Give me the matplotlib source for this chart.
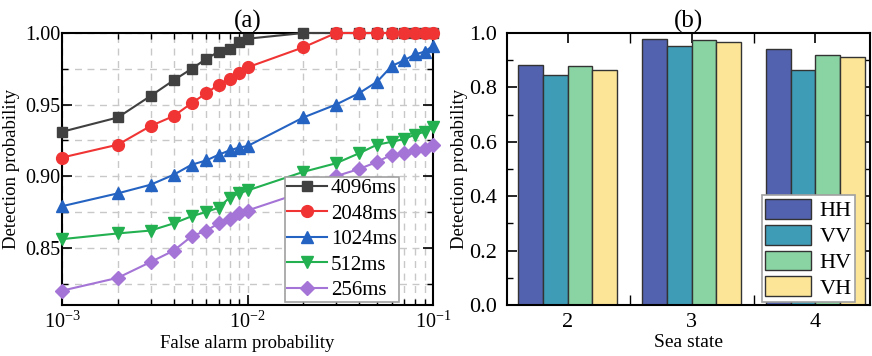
import matplotlib
matplotlib.use("Agg")
import matplotlib.pyplot as plt
from matplotlib.ticker import LogLocator, MultipleLocator, FixedLocator, NullFormatter, FormatStrFormatter
import numpy as np

plt.rcParams['font.family'] = ['Liberation Serif', 'DejaVu Serif']
plt.rcParams['mathtext.fontset'] = 'custom'
plt.rcParams['mathtext.rm'] = 'Liberation Serif'
plt.rcParams['mathtext.it'] = 'Liberation Serif:italic'
plt.rcParams['mathtext.bf'] = 'Liberation Serif:bold'

# ---- data (a) ----
pfa = [1e-3, 2e-3, 3e-3, 4e-3, 5e-3, 6e-3, 7e-3, 8e-3, 9e-3, 1e-2,
       2e-2, 3e-2, 4e-2, 5e-2, 6e-2, 7e-2, 8e-2, 9e-2, 1e-1]
pd_4096 = [0.931, 0.941, 0.956, 0.967, 0.975, 0.982, 0.987, 0.989, 0.994, 0.996,
           1.000, 1.000, 1.000, 1.000, 1.000, 1.000, 1.000, 1.000, 1.000]
pd_2048 = [0.913, 0.922, 0.935, 0.942, 0.951, 0.958, 0.964, 0.968, 0.972, 0.976,
           0.990, 1.000, 1.000, 1.000, 1.000, 1.000, 1.000, 1.000, 1.000]
pd_1024 = [0.879, 0.888, 0.894, 0.901, 0.908, 0.911, 0.915, 0.918, 0.920, 0.921,
           0.941, 0.950, 0.958, 0.966, 0.977, 0.981, 0.985, 0.987, 0.991]
pd_512 = [0.856, 0.860, 0.862, 0.867, 0.872, 0.875, 0.878, 0.885, 0.888, 0.890,
          0.903, 0.909, 0.916, 0.922, 0.924, 0.926, 0.929, 0.931, 0.934]
pd_256 = [0.820, 0.829, 0.840, 0.848, 0.858, 0.862, 0.867, 0.870, 0.874, 0.876,
          0.889, 0.900, 0.905, 0.910, 0.915, 0.916, 0.918, 0.919, 0.922]
series_labels = ['4096ms', '2048ms', '1024ms', '512ms', '256ms']

# ---- data (b) ----
sea_states = [2, 3, 4]
pol_labels = ['HH', 'VV', 'HV', 'VH']
pd_HH = [0.882, 0.978, 0.941]
pd_VV = [0.847, 0.951, 0.863]
pd_HV = [0.877, 0.973, 0.920]
pd_VH = [0.863, 0.968, 0.912]

fig = plt.figure(figsize=(8.72, 3.56), dpi=100)
ax1 = fig.add_axes([62/872, 1-305/356, (433-62)/872, (305-33)/356])
ax2 = fig.add_axes([507/872, 1-305/356, (870-507)/872, (305-33)/356])

line_colors = ['#404040', '#F03434', '#2563C2', '#22B050', '#A474D6']
markers = ['s', 'o', '^', 'v', 'D']
msizes = [7.5, 8.5, 8.5, 8.5, 7.5]
for ys, c, m, ms, lab in zip([pd_4096, pd_2048, pd_1024, pd_512, pd_256],
                             line_colors, markers, msizes, series_labels):
    ax1.plot(pfa, ys, color=c, marker=m, markersize=ms, linewidth=1.5,
             markeredgecolor=c, label=lab, clip_on=False, zorder=3)

ax1.set_xscale('log')
ax1.set_xlim(1e-3, 1e-1)
ax1.set_ylim(0.81, 1.0)
ax1.yaxis.set_major_locator(FixedLocator([0.85, 0.90, 0.95, 1.00]))
ax1.yaxis.set_minor_locator(FixedLocator([0.825, 0.875, 0.925, 0.975]))
ax1.yaxis.set_major_formatter(FormatStrFormatter('%.2f'))
ax1.xaxis.set_minor_locator(LogLocator(base=10, subs=np.arange(2, 10)))
ax1.xaxis.set_minor_formatter(NullFormatter())
ax1.grid(True, which='both', linestyle=(0, (5, 4)), color='#C8C8C8', linewidth=1.0, zorder=0)
ax1.set_axisbelow(True)
ax1.tick_params(axis='both', which='major', labelsize=14.5, length=7, width=1.2,
                direction='in', top=True, right=True)
ax1.tick_params(axis='both', which='minor', length=4, width=1.0,
                direction='in', top=True, right=True)
ax1.tick_params(axis='y', which='major', pad=1)
ax1.tick_params(axis='x', which='major', pad=5)
for s in ax1.spines.values():
    s.set_linewidth(1.5)
ax1.set_xlabel('False alarm probability', fontsize=13.5, labelpad=1)
ax1.set_ylabel('Detection probability', fontsize=13.5)
ax1.yaxis.set_label_coords(-0.113, 0.5)
ax1.set_title('(a)', fontsize=18, pad=1)
leg1 = ax1.legend(loc='lower right', bbox_to_anchor=(0.908, 0.011), fontsize=15,
                  handlelength=1.9, handletextpad=0.2, borderpad=0.1,
                  labelspacing=0.28, borderaxespad=0.0, fancybox=False,
                  framealpha=1.0, edgecolor='#A0A0A0')
leg1.get_frame().set_linewidth(1.2)

# ---- (b) ----
bar_colors = ['#5262AE', '#3F9CB6', '#89D4A2', '#FCE597']
width = 0.2
x = np.array(sea_states, dtype=float)
for i, (vals, c, lab) in enumerate(zip([pd_HH, pd_VV, pd_HV, pd_VH], bar_colors, pol_labels)):
    ax2.bar(x + (i - 1.5) * width, vals, width=width, color=c, edgecolor='#333333',
            linewidth=1.0, label=lab, zorder=2)
ax2.set_xlim(1.51, 4.44)
ax2.set_ylim(0, 1.0)
ax2.set_xticks(sea_states)
ax2.xaxis.set_minor_locator(FixedLocator([2.5, 3.5]))
ax2.yaxis.set_major_locator(MultipleLocator(0.2))
ax2.yaxis.set_minor_locator(MultipleLocator(0.1))
ax2.yaxis.set_major_formatter(FormatStrFormatter('%.1f'))
ax2.tick_params(axis='both', which='major', labelsize=16, length=7, width=1.2,
                direction='in', top=True, right=True)
ax2.tick_params(axis='both', which='minor', length=4, width=1.0,
                direction='in', top=True, right=True)
ax2.tick_params(axis='x', which='minor', length=7)
ax2.tick_params(axis='x', which='major', pad=6)
ax2.tick_params(axis='y', which='major', pad=7)
for s in ax2.spines.values():
    s.set_linewidth(1.5)
ax2.set_xlabel('Sea state', fontsize=14, labelpad=1)
ax2.set_ylabel('Detection probability', fontsize=13.5)
ax2.yaxis.set_label_coords(-0.107, 0.5)
ax2.set_title('(b)', fontsize=18, pad=1)
leg2 = ax2.legend(loc='lower right', bbox_to_anchor=(0.959, 0.01), fontsize=16,
                  handlelength=2.05, handleheight=1.0, handletextpad=0.4,
                  borderpad=0.15, labelspacing=0.15, borderaxespad=0.0,
                  fancybox=False, framealpha=1.0, edgecolor='#A0A0A0')
leg2.get_frame().set_linewidth(1.2)

fig.savefig('out.png', dpi=100)
